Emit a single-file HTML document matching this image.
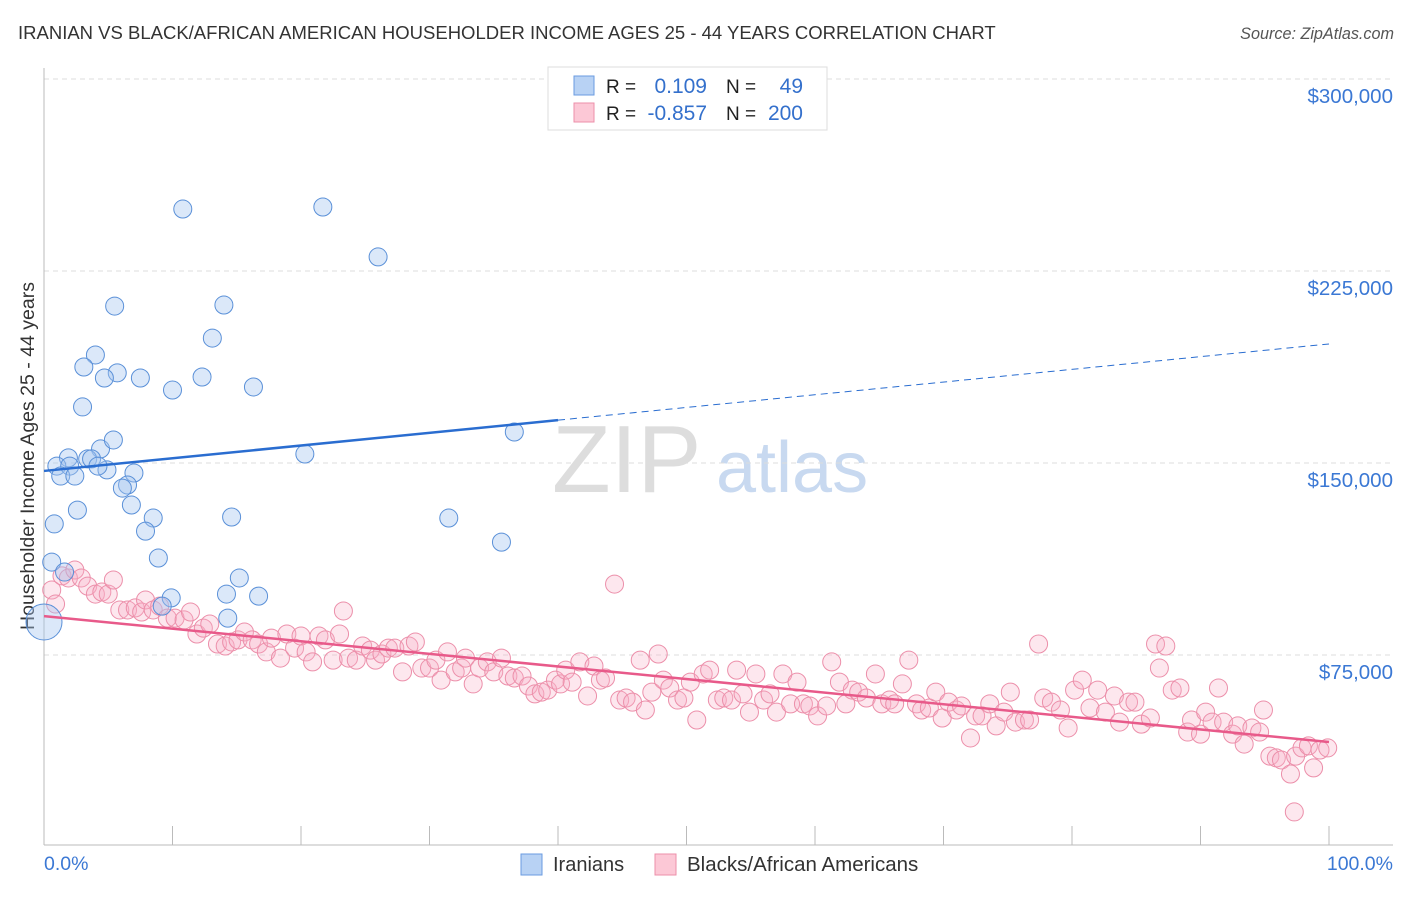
<!DOCTYPE html>
<html><head><meta charset="utf-8"><style>
body{margin:0;background:#fff;font-family:"Liberation Sans",sans-serif}
svg text{font-family:"Liberation Sans",sans-serif}
</style></head><body>
<svg width="1406" height="892" xmlns="http://www.w3.org/2000/svg">
<text x="18" y="39" font-size="18.5" fill="#333">IRANIAN VS BLACK/AFRICAN AMERICAN HOUSEHOLDER INCOME AGES 25 - 44 YEARS CORRELATION CHART</text>
<text x="1394" y="39" font-size="16.2" fill="#555" font-style="italic" text-anchor="end">Source: ZipAtlas.com</text>
<g>
<text x="552" y="492" font-size="96" fill="#ddd" font-family="Liberation Serif">ZIP</text>
<text x="716" y="492" font-size="72" fill="#c8d9f0">atlas</text>
</g>
<g id="grid"></g>
<g id="axes"></g>
<g id="pink"></g>
<g id="blue"></g>
<g id="lines"></g>
<g>
<rect x="548" y="67" width="279" height="63" fill="#fff" stroke="#ddd"/>
<rect x="574" y="76" width="20" height="19" fill="#b8d2f4" stroke="#6a9be0"/>
<rect x="574" y="103" width="20" height="19" fill="#fcc8d6" stroke="#ec8faa"/>
<text x="606" y="93" font-size="19" fill="#222">R =</text><text x="707" y="93" font-size="21" fill="#3470cc" text-anchor="end">0.109</text>
<text x="726" y="93" font-size="19" fill="#222">N =</text><text x="803" y="93" font-size="21" fill="#3470cc" text-anchor="end">49</text>
<text x="606" y="120" font-size="19" fill="#222">R =</text><text x="707" y="120" font-size="21" fill="#3470cc" text-anchor="end">-0.857</text>
<text x="726" y="120" font-size="19" fill="#222">N =</text><text x="803" y="120" font-size="21" fill="#3470cc" text-anchor="end">200</text>
</g>
<g>
<rect x="521" y="854" width="21" height="21" fill="#b8d2f4" stroke="#6a9be0"/>
<text x="553" y="871" font-size="20" fill="#333">Iranians</text>
<rect x="655" y="854" width="21" height="21" fill="#fcc8d6" stroke="#ec8faa"/>
<text x="687" y="871" font-size="20.5" fill="#333">Blacks/African Americans</text>
</g>
</svg>
<script>
const yTicks=[75,150,225,300];
const yTickLabels=["$75,000","$150,000","$225,000","$300,000"];
const blueX=[10.8,21.7,26.0,5.5,14.0,13.1,4.0,3.1,5.7,4.7,7.5,10.0,12.3,16.3,3.0,4.4,5.4,1.9,1.0,3.4,3.7,2.0,1.3,2.4,4.9,7.0,4.2,6.5,6.1,6.8,2.6,8.5,7.9,14.6,0.8,20.3,36.6,31.5,8.9,35.6,0.6,15.2,1.6,9.9,14.2,16.7,9.2,0,14.3];
const blueY=[249.2,250,230.5,211.3,211.7,198.8,192.2,187.5,185.2,183.2,183.2,178.5,183.6,179.7,171.9,155.5,159,152,148.8,151.6,151.6,148.8,144.9,144.9,147.3,146.1,148.8,141.4,140.2,133.6,131.6,128.5,123.4,128.9,126.2,153.5,162.1,128.5,112.9,119.1,111.3,105.1,107.4,97.3,98.8,98,94.1,87.9,89.4];
const pinkX=[0.6,0.9,1.4,1.9,2.4,2.9,3.4,4.0,4.5,5.0,5.4,5.9,6.5,7.1,7.6,7.9,8.5,9.0,9.6,10.2,10.9,11.4,11.9,12.4,12.9,13.5,14.1,14.6,15.1,15.6,16.2,16.7,17.3,17.7,18.4,18.9,19.5,20.0,20.4,20.9,21.4,21.9,22.5,23.0,23.3,23.7,24.3,24.8,25.4,25.8,26.3,26.8,27.3,27.9,28.4,28.9,29.4,30.0,30.5,30.9,31.4,32.0,32.5,32.8,33.4,33.9,34.5,35.0,35.6,36.1,36.6,37.2,37.7,38.2,38.7,39.2,39.8,40.2,40.6,41.1,41.7,42.3,42.8,43.3,43.7,44.4,44.8,45.3,45.8,46.4,46.8,47.3,47.8,48.2,48.7,49.3,49.8,50.3,50.8,51.3,51.8,52.4,52.9,53.5,53.9,54.4,54.9,55.4,56.0,56.5,57.0,57.5,58.1,58.6,59.1,59.6,60.2,60.9,61.3,61.9,62.4,62.9,63.4,64.0,64.7,65.2,65.8,66.2,66.8,67.3,67.9,68.3,68.9,69.4,69.9,70.4,71.0,71.4,72.1,72.5,73.0,73.6,74.1,74.7,75.2,75.6,76.3,76.7,77.4,77.8,78.4,79.1,79.7,80.2,80.8,81.4,82.0,82.6,83.3,83.7,84.4,84.9,85.4,86.1,86.5,86.8,87.3,87.8,88.4,89.0,89.3,90.0,90.4,90.9,91.4,91.8,92.5,92.9,93.4,94.0,94.6,94.9,95.4,95.9,96.3,97.0,97.4,97.9,98.4,98.8,99.3,99.9,97.3];
const pinkY=[100.4,94.9,105.9,105.1,108.2,105.1,101.9,98.8,99.6,98.8,104.3,92.6,92.6,93.4,91.8,96.5,92.6,94.1,89.4,89.4,88.7,91.8,83.2,85.5,87.1,79.3,78.5,80.1,80.9,84.0,80.9,79.3,76.2,81.6,73.8,83.2,77.7,82.4,76.2,72.3,82.4,80.9,73.0,83.2,92.2,73.8,73.0,78.5,76.9,73.0,75.4,77.7,77.7,68.4,78.5,80.1,69.9,69.9,73.0,65.2,76.2,68.4,69.9,73.8,63.7,69.9,72.3,68.4,73.8,66.8,66.0,66.8,62.9,59.8,60.5,61.3,65.2,63.7,69.1,64.4,72.3,59.0,70.7,65.2,66.0,102.7,57.4,58.2,56.6,73.0,53.5,60.5,75.4,65.2,62.1,57.4,58.2,64.4,49.6,67.6,69.1,57.4,58.2,57.4,69.1,59.8,52.7,67.6,57.4,59.8,52.7,67.6,55.9,64.4,55.9,55.1,51.2,55.1,72.3,64.4,55.9,61.3,60.5,58.2,67.6,55.9,57.4,55.9,63.7,73.0,55.9,53.5,54.3,60.5,50.4,56.6,53.5,55.1,42.6,51.2,51.2,55.9,47.3,52.7,60.5,48.8,49.6,49.6,79.3,58.2,56.6,53.5,46.5,61.3,65.2,54.3,61.3,52.7,59.0,48.8,56.6,56.6,48.0,50.4,79.3,69.9,78.5,61.3,62.1,44.9,49.6,44.1,52.7,48.8,62.1,48.8,44.1,47.3,40.2,46.5,44.9,53.5,35.5,34.8,34.0,28.5,35.5,38.7,39.5,30.9,37.9,38.7,13.7];
const blueTrend=[146.9,196.5];
const pinkTrend=[90.2,41.0];
const NS='http://www.w3.org/2000/svg';
function sx(p){return 44+p*12.85;}
function sy(v){return 847-v*192/75;}
function mk(tag,attrs,parent){const e=document.createElementNS(NS,tag);for(const k in attrs)e.setAttribute(k,attrs[k]);parent.appendChild(e);return e;}
const grid=document.getElementById('grid'),axes=document.getElementById('axes');
yTicks.forEach((t,i)=>{
 const l=mk('line',{x1:44,x2:1393,y1:sy(t),y2:sy(t),stroke:'#ddd','stroke-dasharray':'5,4'},grid);
 
 
 const tx=mk('text',{x:1393,y:sy(t)+24,'font-size':20.5,fill:'#3b78d4','text-anchor':'end'},axes);
 tx.textContent=yTickLabels[i];
 
 
});
mk('line',{x1:44,x2:1393,y1:79,y2:79,stroke:'#ddd','stroke-dasharray':'5,4'},grid);
mk('line',{x1:44,x2:44,y1:68,y2:845,stroke:'#bbb'},axes);
mk('line',{x1:44,x2:1393,y1:845,y2:845,stroke:'#bbb'},axes);
for(let i=0;i<=10;i++){const t=mk('line',{x1:sx(i*10),x2:sx(i*10),y1:826,y2:845,stroke:'#bbb'},axes);
 
 }
const x0=mk('text',{x:44,y:870,'font-size':19.5,fill:'#3b78d4'},axes);x0.textContent='0.0%';


const x1=mk('text',{x:1393,y:870,'font-size':19.5,fill:'#3b78d4','text-anchor':'end'},axes);x1.textContent='100.0%';


const yt=mk('text',{x:0,y:0,'font-size':19.5,fill:'#333','text-anchor':'middle',transform:'translate(34,456) rotate(-90)'},axes);yt.textContent='Householder Income Ages 25 - 44 years';


const pg=document.getElementById('pink');
pinkX.forEach((x,i)=>{const c=mk('circle',{cx:sx(x),cy:sy(pinkY[i]),r:9,fill:'rgba(248,175,198,0.3)',stroke:'#ec8faa','stroke-width':1},pg);
 
 });
const bg=document.getElementById('blue');
blueX.forEach((x,i)=>{const c=mk('circle',{cx:sx(x),cy:sy(blueY[i]),r:(x===0?18:9),fill:'rgba(165,198,240,0.4)',stroke:'#5a90d8','stroke-width':1},bg);
 
 });
const lg=document.getElementById('lines');
const bAt=p=>blueTrend[0]+(blueTrend[1]-blueTrend[0])*p/100;
const b1=mk('line',{x1:sx(0),y1:sy(bAt(0)),x2:sx(40),y2:sy(bAt(40)),stroke:'#2a6dd0','stroke-width':2.5},lg);


const b2=mk('line',{x1:sx(40),y1:sy(bAt(40)),x2:sx(100),y2:sy(bAt(100)),stroke:'#2a6dd0','stroke-width':1,'stroke-dasharray':'7,5'},lg);


const p1=mk('line',{x1:sx(0),y1:sy(pinkTrend[0]),x2:sx(100),y2:sy(pinkTrend[1]),stroke:'#e85a8a','stroke-width':2.5},lg);


</script>
</body></html>
